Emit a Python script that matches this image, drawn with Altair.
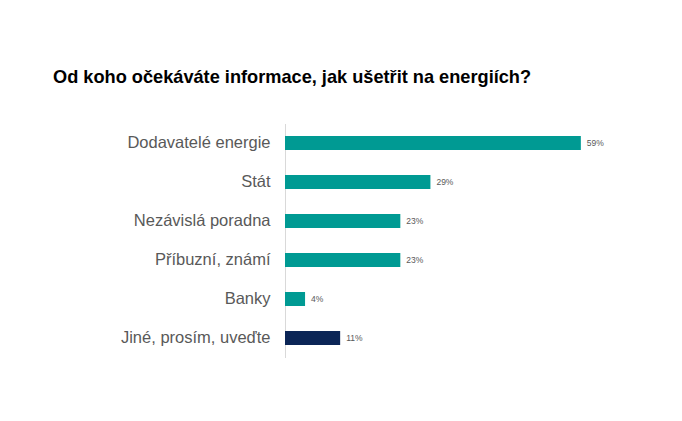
import altair as alt
import pandas as pd

categories = ["Dodavatelé energie", "Stát", "Nezávislá poradna", "Příbuzní, známí", "Banky", "Jiné, prosím, uveďte"]
values = [59, 29, 23, 23, 4, 11]
groups = ["main", "main", "main", "main", "main", "other"]
labels = ["59%", "29%", "23%", "23%", "4%", "11%"]

df = pd.DataFrame({"cat": categories, "val": values, "grp": groups, "lab": labels})

y = alt.Y("cat:N", sort=categories, title=None,
          scale=alt.Scale(paddingInner=0.64, paddingOuter=0.32),
          axis=alt.Axis(ticks=False, labelPadding=15, labelFontSize=16.5, labelColor="#595959",
                        labelFont="Liberation Sans", domainColor="#d9d9d9", domainWidth=1))
x = alt.X("val:Q", scale=alt.Scale(domain=[0, 70]), axis=None, title=None)

bars = alt.Chart(df).mark_bar().encode(
    x=x, y=y,
    color=alt.Color("grp:N", scale=alt.Scale(domain=["main", "other"], range=["#009a93", "#0b2556"]), legend=None),
)
text = alt.Chart(df).mark_text(align="left", dx=6, fontSize=8.5, color="#595959", font="Liberation Sans").encode(
    x=x, y=y, text="lab:N"
)

chart = (bars + text).properties(
    width=351, height=234,
    autosize=alt.AutoSizeParams(type="none"),
    padding={"left": 277, "top": 115.5, "right": 30, "bottom": 40},
    background="#ffffff",
    title=alt.TitleParams("Od koho očekáváte informace, jak ušetřit na energiích?", anchor="start",
                          frame="group", dx=-232, offset=36, fontSize=18.2, font="Liberation Sans",
                          fontWeight="bold", color="#000000"),
).configure_view(stroke=None)

chart.save("out.html", embed_options={"renderer": "svg", "actions": False})
